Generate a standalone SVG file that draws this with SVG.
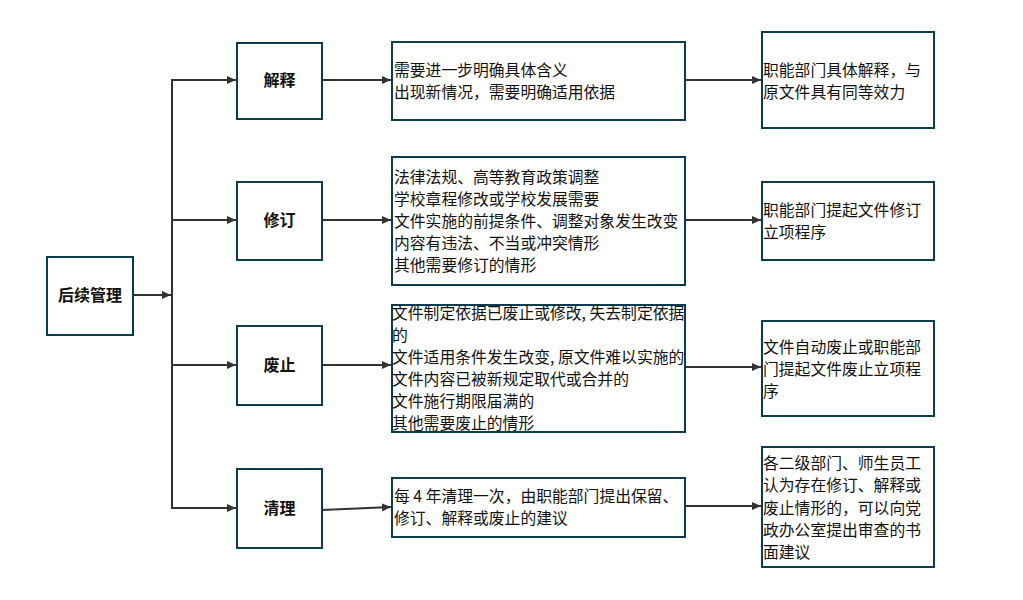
<svg xmlns="http://www.w3.org/2000/svg" width="1023" height="600" viewBox="0 0 1023 600">
<style>
.box{fill:#fff;stroke:#0b3d4f;stroke-width:2}
.t{font-family:"Noto Sans CJK SC","Noto Sans",sans-serif;font-size:15.8px;fill:#111}
.b{font-family:"Noto Sans CJK SC","Noto Sans",sans-serif;font-size:16px;font-weight:bold;fill:#111;text-anchor:middle}
.c{fill:none;stroke:#333;stroke-width:2}
</style>
<defs>
<marker id="ah" markerWidth="10" markerHeight="10" refX="9" refY="5" orient="auto" markerUnits="userSpaceOnUse">
<path d="M0,1 L9,5 L0,9 Z" fill="#333"/>
</marker>
</defs>
<rect width="1023" height="600" fill="#fff"/>
<g id="connectors">
<line class="c" x1="133" y1="295" x2="171" y2="295" marker-end="url(#ah)"/>
<polyline class="c" points="172,80 172,508"/>
<line class="c" x1="171" y1="80" x2="236" y2="80" marker-end="url(#ah)"/>
<line class="c" x1="171" y1="220" x2="236" y2="220" marker-end="url(#ah)"/>
<line class="c" x1="171" y1="365" x2="236" y2="365" marker-end="url(#ah)"/>
<line class="c" x1="171" y1="508" x2="236" y2="508" marker-end="url(#ah)"/>
<line class="c" x1="322" y1="80" x2="391" y2="80" marker-end="url(#ah)"/>
<line class="c" x1="322" y1="220" x2="391" y2="220" marker-end="url(#ah)"/>
<line class="c" x1="322" y1="365" x2="391" y2="365" marker-end="url(#ah)"/>
<line class="c" x1="322" y1="510" x2="391" y2="507" marker-end="url(#ah)"/>
<line class="c" x1="685" y1="80" x2="761" y2="80" marker-end="url(#ah)"/>
<line class="c" x1="685" y1="220" x2="761" y2="220" marker-end="url(#ah)"/>
<line class="c" x1="685" y1="367" x2="761" y2="367" marker-end="url(#ah)"/>
<line class="c" x1="685" y1="506" x2="761" y2="506" marker-end="url(#ah)"/>
</g>
<g id="root">
<rect class="box" x="47" y="257" width="86" height="78"/>
<text class="b" x="90" y="301">后续管理</text>
</g>
<g id="n-jieshi">
<rect class="box" x="237" y="43" width="85" height="76"/>
<text class="b" x="279.5" y="86">解释</text>
</g>
<g id="n-xiuding">
<rect class="box" x="237" y="182" width="85" height="78"/>
<text class="b" x="279.5" y="226">修订</text>
</g>
<g id="n-feizhi">
<rect class="box" x="237" y="326" width="85" height="79"/>
<text class="b" x="279.5" y="371">废止</text>
</g>
<g id="n-qingli">
<rect class="box" x="237" y="469" width="85" height="79"/>
<text class="b" x="279.5" y="514">清理</text>
</g>
<g id="d-jieshi">
<rect class="box" x="392" y="42" width="293" height="78"/>
<text class="t" x="394"><tspan x="394" y="76">需要进一步明确具体含义</tspan><tspan x="394" y="98">出现新情况，需要明确适用依据</tspan></text>
</g>
<g id="d-xiuding">
<rect class="box" x="392" y="157" width="293" height="128"/>
<text class="t"><tspan x="394" y="183">法律法规、高等教育政策调整</tspan><tspan x="394" y="205">学校章程修改或学校发展需要</tspan><tspan x="394" y="227">文件实施的前提条件、调整对象发生改变</tspan><tspan x="394" y="249">内容有违法、不当或冲突情形</tspan><tspan x="394" y="271">其他需要修订的情形</tspan></text>
</g>
<g id="d-feizhi">
<rect class="box" x="392" y="305" width="293" height="127"/>
<text class="t"><tspan x="392" y="319">文件制定依据已废止或修改, 失去制定依据</tspan><tspan x="392" y="341">的</tspan><tspan x="392" y="363">文件适用条件发生改变, 原文件难以实施的</tspan><tspan x="392" y="385">文件内容已被新规定取代或合并的</tspan><tspan x="392" y="407">文件施行期限届满的</tspan><tspan x="392" y="429">其他需要废止的情形</tspan></text>
</g>
<g id="d-qingli">
<rect class="box" x="392" y="478" width="293" height="59"/>
<text class="t"><tspan x="394" y="502">每 4 年清理一次，由职能部门提出保留、</tspan><tspan x="394" y="524">修订、解释或废止的建议</tspan></text>
</g>
<g id="r-jieshi">
<rect class="box" x="762" y="32" width="172" height="96"/>
<text class="t"><tspan x="763" y="76">职能部门具体解释，与</tspan><tspan x="763" y="98">原文件具有同等效力</tspan></text>
</g>
<g id="r-xiuding">
<rect class="box" x="762" y="182" width="172" height="78"/>
<text class="t"><tspan x="763" y="216">职能部门提起文件修订</tspan><tspan x="763" y="238">立项程序</tspan></text>
</g>
<g id="r-feizhi">
<rect class="box" x="762" y="321" width="172" height="95"/>
<text class="t"><tspan x="763" y="353">文件自动废止或职能部</tspan><tspan x="763" y="375">门提起文件废止立项程</tspan><tspan x="763" y="397">序</tspan></text>
</g>
<g id="r-qingli">
<rect class="box" x="762" y="447" width="172" height="120"/>
<text class="t"><tspan x="763" y="469">各二级部门、师生员工</tspan><tspan x="763" y="491">认为存在修订、解释或</tspan><tspan x="763" y="514">废止情形的，可以向党</tspan><tspan x="763" y="536">政办公室提出审查的书</tspan><tspan x="763" y="558">面建议</tspan></text>
</g>
</svg>
